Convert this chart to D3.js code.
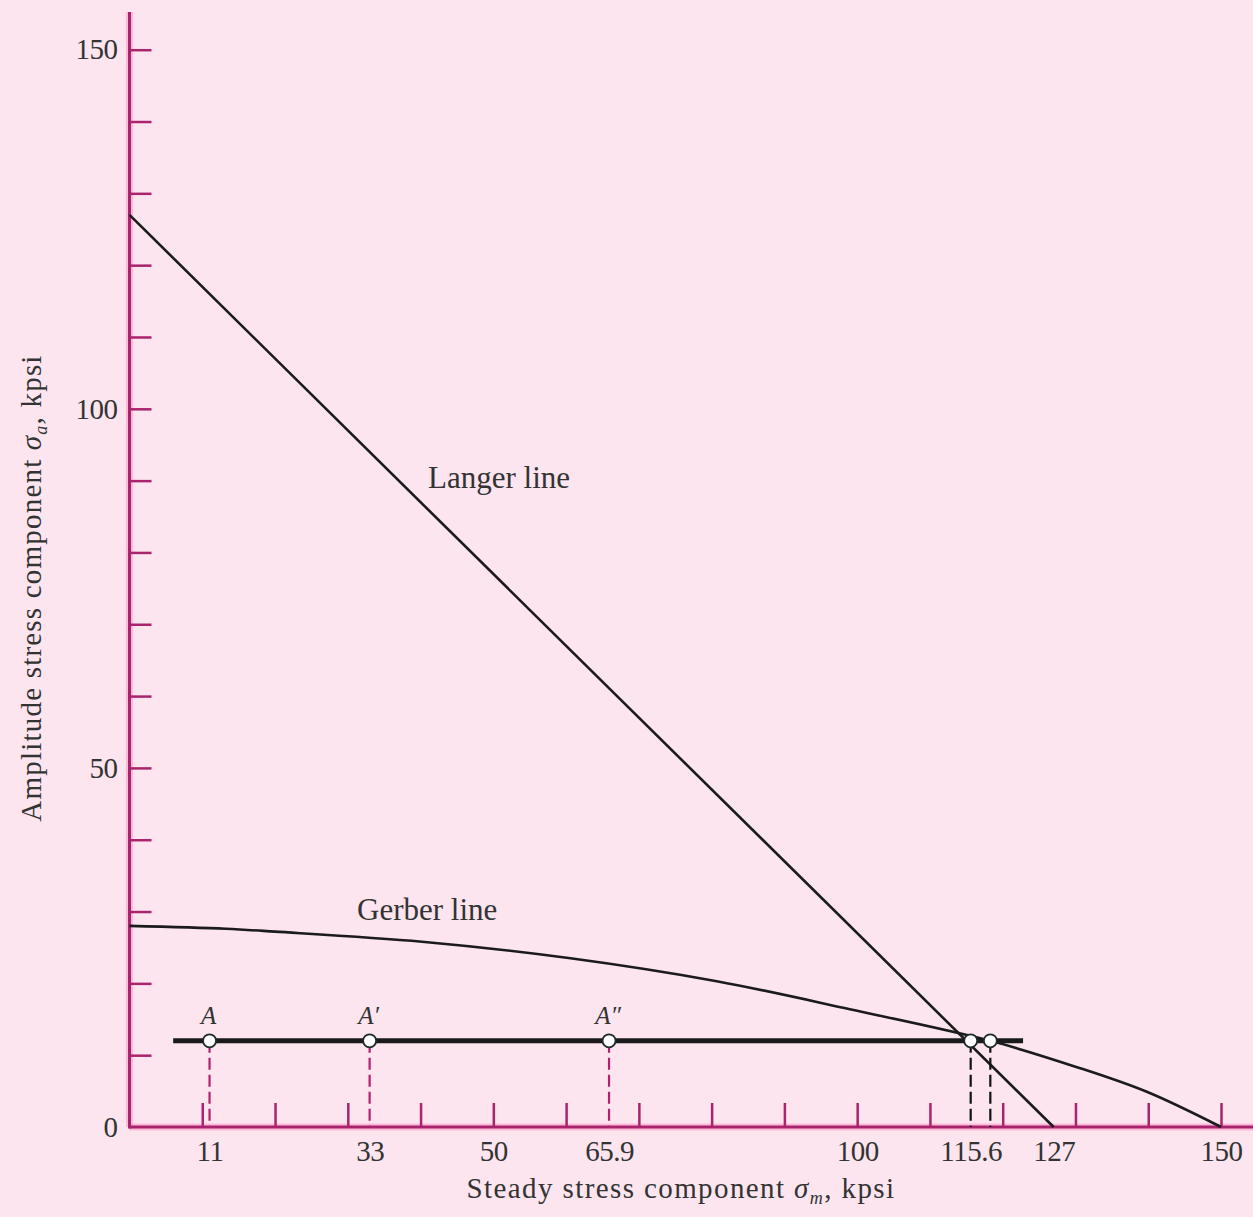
<!DOCTYPE html>
<html>
<head>
<meta charset="utf-8">
<script src="https://cdn.jsdelivr.net/npm/d3@7/dist/d3.min.js"></script>
<style>
  html, body { margin: 0; padding: 0; background: #fce5ef; }
  svg { display: block; }
  text { font-family: "Liberation Serif", "DejaVu Serif", serif; fill: #333; }
</style>
</head>
<body>
<svg id="chart" width="1253" height="1217"></svg>
<script>
// Fatigue diagram: Langer and Gerber failure lines with a constant-amplitude load line.

// Langer line: straight from σa = Sy at σm = 0 to σm = Sy at σa = 0 (kpsi)
const langerSm = [0, 127];
const langerSa = [127, 0];

// Gerber parabola, sampled along the steady stress axis (kpsi)
const gerberSm = [0, 13.2, 20, 40.2, 60.6, 80.7, 99, 118.3, 130, 139.8, 150];
const gerberSa = [28.0, 27.6, 27.2, 25.8, 23.5, 20.3, 16.4, 12.0, 8.4, 4.9, 0];

// Load line of constant amplitude
const loadSa = 12.0;
const loadSmRange = [6.0, 122.8];

// Marked operating points on the load line
const pointNames = ["A", "A\u2032", "A\u2033", "", ""];
const pointSm = [11, 33, 65.9, 115.6, 118.3];
const pointDashColor = ["#b3206e", "#b3206e", "#b3206e", "#111", "#111"];

// Axis ticks and labels
const xTickMarks = [10, 20, 30, 40, 50, 60, 70, 80, 90, 100, 110, 120, 130, 140, 150];
const yTickMarks = [10, 20, 30, 40, 50, 60, 70, 80, 90, 100, 110, 120, 130, 140, 150];
const xLabelValues = [11, 33, 50, 65.9, 100, 115.6, 127, 150];
const xLabelText = ["11", "33", "50", "65.9", "100", "115.6", "127", "150"];
const yLabelValues = [0, 50, 100, 150];

const svg = d3.select("#chart");
const W = 1253, H = 1217;
const axisColor = "#a8246c";

const x = d3.scaleLinear().domain([0, 150]).range([129.5, 1221]);
const y = d3.scaleLinear().domain([0, 150]).range([1127, 49.7]);

// axis lines with a soft pink halo
svg.append("line")
  .attr("x1", x(0)).attr("x2", W)
  .attr("y1", y(0)).attr("y2", y(0))
  .attr("stroke", "#ff9ccc").attr("stroke-width", 7).attr("opacity", 0.6);
svg.append("line")
  .attr("x1", x(0)).attr("x2", x(0))
  .attr("y1", 12).attr("y2", y(0))
  .attr("stroke", "#ff9ccc").attr("stroke-width", 7).attr("opacity", 0.6);
svg.append("line")
  .attr("x1", x(0)).attr("x2", W)
  .attr("y1", y(0)).attr("y2", y(0))
  .attr("stroke", axisColor).attr("stroke-width", 3);
svg.append("line")
  .attr("x1", x(0)).attr("x2", x(0))
  .attr("y1", 12).attr("y2", y(0) + 1.5)
  .attr("stroke", axisColor).attr("stroke-width", 3);

// inward tick marks
const xTicks = svg.append("g")
  .attr("transform", `translate(0,${y(0)})`)
  .call(d3.axisBottom(x).tickValues(xTickMarks).tickSize(-24).tickFormat(""));
xTicks.select(".domain").remove();
xTicks.selectAll("line").attr("stroke", axisColor).attr("stroke-width", 2.5);

const yTicks = svg.append("g")
  .attr("transform", `translate(${x(0)},0)`)
  .call(d3.axisLeft(y).tickValues(yTickMarks).tickSize(-22).tickFormat(""));
yTicks.select(".domain").remove();
yTicks.selectAll("line").attr("stroke", axisColor).attr("stroke-width", 2.5);

// tick labels
const xLab = svg.append("g")
  .attr("transform", `translate(0,${y(0)})`)
  .call(d3.axisBottom(x).tickValues(xLabelValues).tickSize(0).tickPadding(13)
    .tickFormat((d, i) => xLabelText[i]));
xLab.select(".domain").remove();
xLab.selectAll("text")
  .attr("font-family", "Liberation Serif").attr("font-size", 29).attr("fill", "#444")
  .attr("letter-spacing", -0.5);

const yLab = svg.append("g")
  .attr("transform", `translate(${x(0)},0)`)
  .call(d3.axisLeft(y).tickValues(yLabelValues).tickSize(0).tickPadding(12));
yLab.select(".domain").remove();
yLab.selectAll("text")
  .attr("font-family", "Liberation Serif").attr("font-size", 29).attr("fill", "#444")
  .attr("letter-spacing", -0.5);

// axis titles
const xt = svg.append("text")
  .attr("x", 681).attr("y", 1198)
  .attr("text-anchor", "middle")
  .attr("font-size", 29).attr("letter-spacing", 1.4).attr("fill", "#444");
xt.append("tspan").text("Steady stress component ");
xt.append("tspan").attr("font-style", "italic").text("\u03c3");
xt.append("tspan").attr("font-style", "italic").attr("font-size", 18).attr("dy", 6).text("m");
xt.append("tspan").attr("dy", -6).text(", kpsi");

const yt = svg.append("text")
  .attr("transform", "translate(41,588) rotate(-90)")
  .attr("text-anchor", "middle")
  .attr("font-size", 29).attr("letter-spacing", 1.2).attr("fill", "#444");
yt.append("tspan").text("Amplitude stress component ");
yt.append("tspan").attr("font-style", "italic").text("\u03c3");
yt.append("tspan").attr("font-style", "italic").attr("font-size", 18).attr("dy", 6).text("a");
yt.append("tspan").attr("dy", -6).text(", kpsi");

// failure lines
const line = d3.line().x(d => x(d[0])).y(d => y(d[1]));
const gerberLine = d3.line().x(d => x(d[0])).y(d => y(d[1])).curve(d3.curveCatmullRom.alpha(0.5));

svg.append("path")
  .datum(langerSm.map((s, i) => [s, langerSa[i]]))
  .attr("d", line)
  .attr("fill", "none").attr("stroke", "#1b1b1b").attr("stroke-width", 2.6);

svg.append("path")
  .datum(gerberSm.map((s, i) => [s, gerberSa[i]]))
  .attr("d", gerberLine)
  .attr("fill", "none").attr("stroke", "#1b1b1b").attr("stroke-width", 2.6);

svg.append("text").attr("x", 428).attr("y", 488)
  .attr("font-size", 31).attr("fill", "#333").text("Langer line");
svg.append("text").attr("x", 357).attr("y", 920)
  .attr("font-size", 31).attr("fill", "#333").text("Gerber line");

// dashed verticals from the points to the axis
svg.selectAll(".drop")
  .data(pointSm)
  .join("line")
  .attr("class", "drop")
  .attr("x1", d => x(d)).attr("x2", d => x(d))
  .attr("y1", y(loadSa)).attr("y2", y(0))
  .attr("stroke", (d, i) => pointDashColor[i])
  .attr("stroke-width", 2.2)
  .attr("stroke-dasharray", "12,5");

// load line
svg.append("path")
  .datum(loadSmRange.map(s => [s, loadSa]))
  .attr("d", line)
  .attr("stroke", "#1a1a1a").attr("stroke-width", 5);

// points
svg.selectAll(".pt")
  .data(pointSm)
  .join("circle")
  .attr("class", "pt")
  .attr("cx", d => x(d)).attr("cy", y(loadSa))
  .attr("r", 6.5)
  .attr("fill", "#fff").attr("stroke", "#1e2a2a").attr("stroke-width", 1.8);

svg.selectAll(".ptlab")
  .data(pointSm)
  .join("text")
  .attr("class", "ptlab")
  .attr("x", d => x(d) - 1).attr("y", y(loadSa) - 17)
  .attr("text-anchor", "middle")
  .attr("font-style", "italic").attr("font-size", 25).attr("fill", "#444")
  .text((d, i) => pointNames[i]);
</script>
</body>
</html>
